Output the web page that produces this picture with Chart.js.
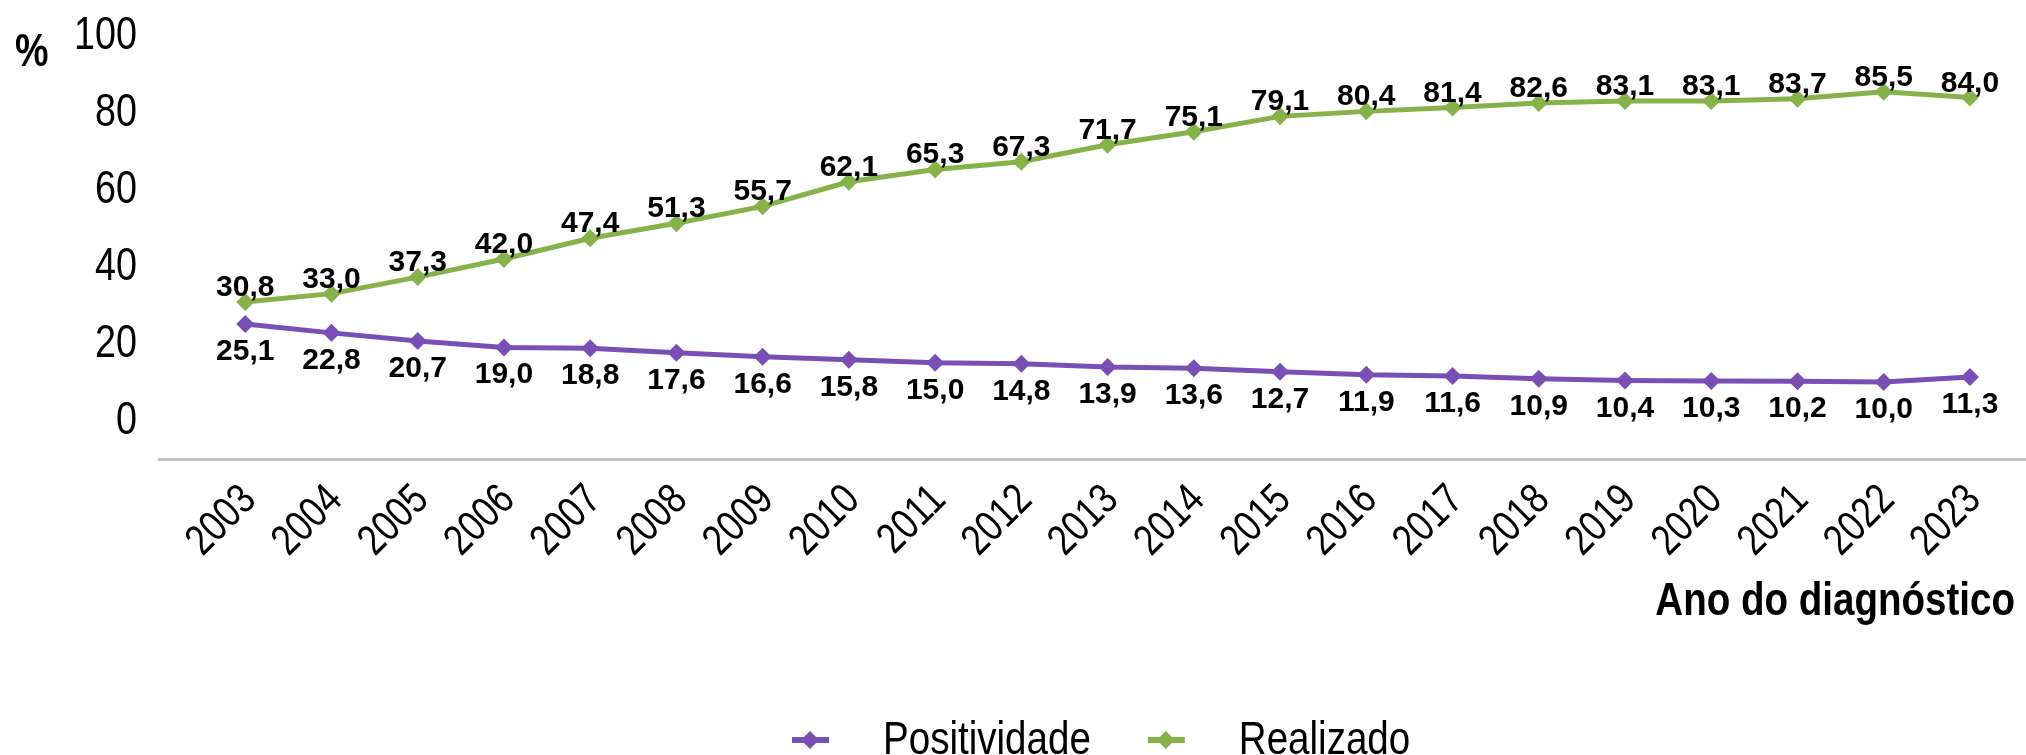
<!DOCTYPE html>
<html>
<head>
<meta charset="utf-8">
<script src="https://cdn.jsdelivr.net/npm/chart.js@4"></script>
<style>
  html, body { margin: 0; padding: 0; background: #fff; overflow: hidden; }
</style>
</head>
<body>
<canvas id="chart" width="2026" height="755"></canvas>
<script>
const years = [2003, 2004, 2005, 2006, 2007, 2008, 2009, 2010, 2011, 2012, 2013,
  2014, 2015, 2016, 2017, 2018, 2019, 2020, 2021, 2022, 2023];
const positividade = [25.1, 22.8, 20.7, 19.0, 18.8, 17.6, 16.6, 15.8, 15.0, 14.8, 13.9,
  13.6, 12.7, 11.9, 11.6, 10.9, 10.4, 10.3, 10.2, 10.0, 11.3];
const realizado = [30.8, 33.0, 37.3, 42.0, 47.4, 51.3, 55.7, 62.1, 65.3, 67.3, 71.7,
  75.1, 79.1, 80.4, 81.4, 82.6, 83.1, 83.1, 83.7, 85.5, 84.0];
const yTicks = [0, 20, 40, 60, 80, 100];

const PURPLE = "#7a4fb5";
const GREEN = "#86b24a";
const SANS = '"Liberation Sans", Arial, sans-serif';
const SQ = 0.82; // no narrow face installed, so squeeze Liberation Sans

Chart.defaults.font.family = SANS;
Chart.defaults.color = "#000";

const fmt = v => v.toFixed(1).replace(".", ",");

// draw text horizontally squeezed, optionally rotated
function narrow(c, text, x, y, align, rot, dy) {
  c.save();
  c.translate(x, y);
  if (rot) c.rotate(rot);
  c.scale(SQ, 1);
  c.textAlign = align;
  c.fillText(text, 0, dy || 0);
  c.restore();
}

// value labels: green above the point, purple below
const valueLabels = {
  id: "valueLabels",
  afterDatasetsDraw(chart) {
    const c = chart.ctx;
    c.save();
    c.font = "bold 30px " + SANS;
    c.fillStyle = "#000";
    c.textAlign = "center";
    c.textBaseline = "alphabetic";
    chart.data.datasets.forEach((ds, i) => {
      const meta = chart.getDatasetMeta(i);
      meta.data.forEach((pt, j) => {
        const off = ds.label === "Realizado" ? -6 : 36;
        c.fillText(fmt(ds.data[j].y), pt.x, pt.y + off);
      });
    });
    c.restore();
  }
};

// tick labels (narrow), "%", axis title, legend
const extras = {
  id: "extras",
  afterDraw(chart) {
    const c = chart.ctx;
    const xs = chart.scales.x, ys = chart.scales.y;
    c.save();
    c.fillStyle = "#000";
    c.textBaseline = "alphabetic";

    c.font = "46px " + SANS;
    ys.ticks.forEach(t => {
      narrow(c, String(t.value), ys.right - 22, ys.getPixelForValue(t.value) + 13, "right");
    });

    c.font = "43px " + SANS;
    xs.ticks.forEach(t => {
      narrow(c, String(t.value), xs.getPixelForValue(t.value) + 2, xs.top + 32,
        "right", -Math.PI / 4, 15);
    });

    c.font = "bold 46px " + SANS;
    narrow(c, "%", 15, 66, "left");
    c.font = "bold 47px " + SANS;
    narrow(c, "Ano do diagnóstico", 2015, 615, "right");

    c.font = "47px " + SANS;
    let x = 792;
    const ly = 740;
    chart.data.datasets.forEach(ds => {
      c.strokeStyle = ds.borderColor;
      c.lineWidth = 6;
      c.beginPath();
      c.moveTo(x, ly);
      c.lineTo(x + 37, ly);
      c.stroke();
      c.fillStyle = ds.borderColor;
      c.beginPath();
      c.moveTo(x + 18, ly - 9);
      c.lineTo(x + 27, ly);
      c.lineTo(x + 18, ly + 9);
      c.lineTo(x + 9, ly);
      c.closePath();
      c.fill();
      c.fillStyle = "#000";
      const tx = x + 91;
      narrow(c, ds.label, tx, 754, "left");
      x = tx + c.measureText(ds.label).width * SQ + 57;
    });
    c.restore();
  }
};

const mkData = vals => years.map((yr, i) => ({ x: yr, y: vals[i] }));

new Chart(document.getElementById("chart"), {
  type: "line",
  data: {
    datasets: [
      {
        label: "Positividade",
        data: mkData(positividade),
        borderColor: PURPLE,
        backgroundColor: PURPLE,
        borderWidth: 5,
        pointStyle: "rectRot",
        pointRadius: 9,
        pointBorderWidth: 0,
        tension: 0,
        clip: false
      },
      {
        label: "Realizado",
        data: mkData(realizado),
        borderColor: GREEN,
        backgroundColor: GREEN,
        borderWidth: 5,
        pointStyle: "rectRot",
        pointRadius: 9,
        pointBorderWidth: 0,
        tension: 0,
        clip: false
      }
    ]
  },
  options: {
    responsive: false,
    animation: false,
    layout: { autoPadding: false, padding: { top: 36, left: 0, right: 0, bottom: 0 } },
    plugins: {
      legend: { display: false },
      tooltip: { enabled: false }
    },
    scales: {
      x: {
        type: "linear",
        min: 2002,
        max: 2023.65,
        grid: { display: false, drawTicks: false },
        border: { display: true, color: "#c0c0c0", width: 3 },
        afterBuildTicks: s => { s.ticks = years.map(v => ({ value: v })); },
        afterFit: s => { s.height = 296; },
        ticks: { display: false }
      },
      y: {
        min: -10,
        max: 100,
        grid: { display: false, drawTicks: false },
        border: { display: false },
        afterBuildTicks: s => { s.ticks = yTicks.map(v => ({ value: v })); },
        afterFit: s => { s.width = 159; },
        ticks: { display: false }
      }
    }
  },
  plugins: [valueLabels, extras]
});
</script>
</body>
</html>
